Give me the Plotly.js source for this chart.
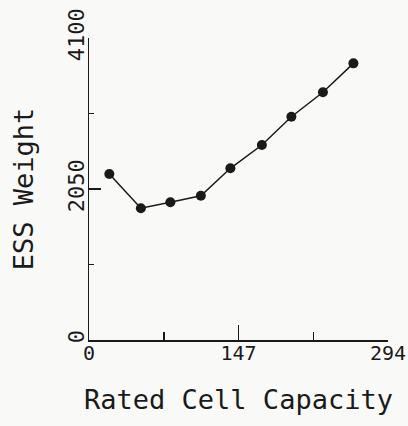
<!DOCTYPE html>
<html>
<head>
<meta charset="utf-8">
<script src="https://cdn.plot.ly/plotly-3.0.1.min.js"></script>
<style>html,body{margin:0;padding:0;background:#f9f9f7;}#chart{width:408px;height:426px;}</style>
</head>
<body>
<div id="chart"></div>
<script>
const capacity = [20, 51, 80, 110, 139, 170, 199, 230, 260];
const weight = [2254, 1788, 1869, 1959, 2331, 2647, 3031, 3363, 3756];
const xTickVals = [0, 147, 294];
const xTickText = ['0', '147', '294'];
const yTickVals = [0, 2050, 4100];
const yTickText = ['0', '2050', '4100'];
const xTitle = 'Rated Cell Capacity';
const yTitle = 'ESS Weight';

const ink = '#1a1a1a';
const font = 'DejaVu Sans Mono, monospace';

const trace = {
  x: capacity, y: weight, type: 'scatter', mode: 'lines+markers',
  line: {color: ink, width: 1.5},
  marker: {color: ink, size: 10, symbol: 'circle'},
  hoverinfo: 'skip'
};

const layout = {
  width: 408, height: 426,
  paper_bgcolor: '#f9f9f7', plot_bgcolor: '#f9f9f7',
  margin: {l: 89, r: 20, t: 38, b: 86},
  showlegend: false,
  font: {family: font, color: ink},
  xaxis: {
    range: [0, 294], tickvals: xTickVals, ticktext: xTickText,
    ticks: 'inside', ticklen: 15, tickwidth: 1.5, tickcolor: ink,
    ticklabelstandoff: -6,
    showline: true, linecolor: ink, linewidth: 1.5,
    showgrid: false, zeroline: false,
    tickfont: {family: font, size: 20, color: ink},
    minor: {tickvals: [73.5, 220.5], ticks: 'inside', ticklen: 8, tickwidth: 1.5, tickcolor: ink, showgrid: false},
    title: {text: xTitle, font: {family: font, size: 27, color: ink}, standoff: 26}
  },
  yaxis: {
    range: [0, 4100], tickvals: yTickVals, ticktext: yTickText,
    ticks: 'inside', ticklen: 12, tickwidth: 1.5, tickcolor: ink,
    tickangle: -90, ticklabelstandoff: -5,
    showline: true, linecolor: ink, linewidth: 1.5,
    showgrid: false, zeroline: false,
    tickfont: {family: font, size: 22, color: ink},
    minor: {tickvals: [1025, 3075], ticks: 'inside', ticklen: 5, tickwidth: 1.5, tickcolor: ink, showgrid: false},
    title: {text: yTitle, font: {family: font, size: 27, color: ink}, standoff: 22}
  }
};

Plotly.newPlot('chart', [trace], layout, {displayModeBar: false, staticPlot: true});
</script>
</body>
</html>
